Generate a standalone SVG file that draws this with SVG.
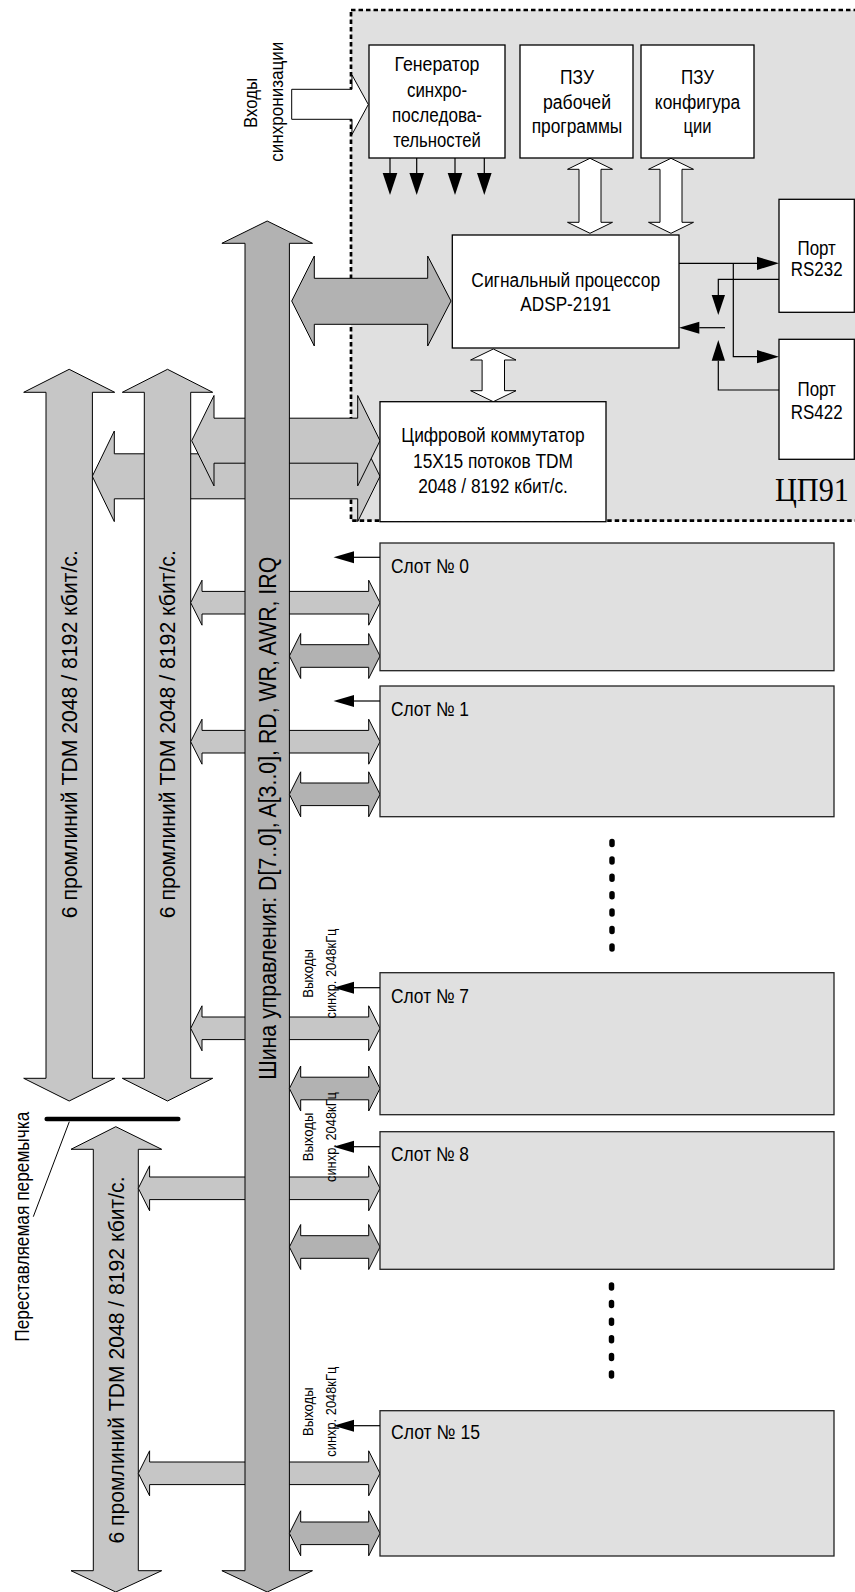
<svg xmlns="http://www.w3.org/2000/svg" width="855" height="1592" viewBox="0 0 855 1592">
<style>
.bg{fill:#fff}
.cpu{fill:#e0e0e0;stroke:#000;stroke-width:2.7;stroke-dasharray:4.5 3}
.box{fill:#fff;stroke:#000;stroke-width:1.3}
.slot{fill:#e0e0e0;stroke:#222;stroke-width:1.3}
.lt{fill:#c6c6c6;stroke:#000;stroke-width:1}
.dk{fill:#b2b2b2;stroke:#000;stroke-width:1}
.wh{fill:#fff;stroke:#000;stroke-width:1}
.ln{fill:none;stroke:#000;stroke-width:1.2}
.tri{fill:#000;stroke:none}
.dots{fill:none;stroke:#000;stroke-width:5.5;stroke-linecap:round}
.t{font-family:"Liberation Sans",Arial,sans-serif;font-size:20px;text-anchor:middle;fill:#000}
.tl{font-family:"Liberation Sans",Arial,sans-serif;font-size:20px;fill:#000}
.tr{font-family:"Liberation Sans",Arial,sans-serif;font-size:22.5px;text-anchor:middle;fill:#000}
.ts{font-family:"Liberation Sans",Arial,sans-serif;font-size:14px;text-anchor:middle;fill:#000}
.tv{font-family:"Liberation Serif","Times New Roman",serif;font-size:34px;fill:#000}
</style>
<rect class="bg" x="0" y="0" width="855" height="1592"/>

<g id="cpu-region">
<rect class="cpu" x="351" y="10" width="520" height="510.7"/>
</g>

<g id="connectors">
<polygon class="wh" points="291.7,89.3 352,89.3 352,75 368.3,104.5 352,134.5 352,119.3 291.7,119.3"/>
<line class="ln" x1="390" y1="158" x2="390" y2="173"/>
<line class="ln" x1="416.7" y1="158" x2="416.7" y2="173"/>
<line class="ln" x1="455" y1="158" x2="455" y2="173"/>
<line class="ln" x1="484.3" y1="158" x2="484.3" y2="173"/>
<polygon class="tri" points="382.7,173 397.3,173 390,195"/>
<polygon class="tri" points="409.4,173 424,173 416.7,195"/>
<polygon class="tri" points="447.7,173 462.3,173 455,195"/>
<polygon class="tri" points="477,173 491.6,173 484.3,195"/>
<polygon class="wh" points="590,158.3 612.5,169.3 601,169.3 601,222.3 612.5,222.3 590,233.3 567.5,222.3 579,222.3 579,169.3 567.5,169.3"/>
<polygon class="wh" points="671,158.3 693.5,169.3 682,169.3 682,222.3 693.5,222.3 671,233.3 648.5,222.3 660,222.3 660,169.3 648.5,169.3"/>
<polygon class="wh" points="493.3,349 516,360 504.5,360 504.5,390.7 516,390.7 493.3,401.7 470.6,390.7 482.1,390.7 482.1,360 470.6,360"/>
<polyline class="ln" points="679,263.3 757,263.3"/>
<polygon class="tri" points="757,256.7 779,263.3 757,270"/>
<polyline class="ln" points="733.3,263.3 733.3,356.7 757,356.7"/>
<polygon class="tri" points="757,350 779,356.7 757,363.3"/>
<polyline class="ln" points="779,279.3 718.3,279.3 718.3,295"/>
<polygon class="tri" points="711.7,295 725,295 718.3,315"/>
<polyline class="ln" points="725,327.7 699.3,327.7"/>
<polygon class="tri" points="699.3,321.7 679,327.7 699.3,333.7"/>
<polyline class="ln" points="779,390 718.3,390 718.3,360.7"/>
<polygon class="tri" points="711.7,360.7 725,360.7 718.3,340"/>
<polygon class="lt" points="92.3,476.3 114.3,431 114.3,453.8 357.7,453.8 357.7,431 380,476.3 357.7,521.6 357.7,498.8 114.3,498.8 114.3,521.6"/>
</g>

<g id="tdm1">
<polygon class="lt" points="69.2,369.3 114.7,392.3 92.4,392.3 92.4,1078.3 114.7,1078.3 69.2,1101 23.7,1078.3 46,1078.3 46,392.3 23.7,392.3"/>
<text class="tr" transform="translate(77,734.2) rotate(-90)" textLength="368" lengthAdjust="spacingAndGlyphs">6 промлиний TDM 2048 / 8192 кбит/с.</text>
</g>
<g id="tdm2">
<polygon class="lt" points="167.5,369.3 212.7,392.3 190.7,392.3 190.7,1078.3 212.7,1078.3 167.5,1101 122.3,1078.3 144.3,1078.3 144.3,392.3 122.3,392.3"/>
<text class="tr" transform="translate(174.5,734.2) rotate(-90)" textLength="368" lengthAdjust="spacingAndGlyphs">6 промлиний TDM 2048 / 8192 кбит/с.</text>
</g>
<g id="tdm3">
<polygon class="lt" points="115.8,1126.7 161.7,1149.3 138.3,1149.3 138.3,1570.7 161.7,1570.7 115.8,1592 71,1570.7 93.3,1570.7 93.3,1149.3 71,1149.3"/>
<text class="tr" transform="translate(124,1360) rotate(-90)" textLength="367" lengthAdjust="spacingAndGlyphs">6 промлиний TDM 2048 / 8192 кбит/с.</text>
</g>

<g id="jumper">
<line x1="46.7" y1="1119" x2="178.3" y2="1119" stroke="#000" stroke-width="4.5" stroke-linecap="round"/>
<line x1="69.3" y1="1121.7" x2="33.3" y2="1216.7" stroke="#000" stroke-width="1"/>
<text class="tl" style="font-size:20.5px;text-anchor:middle" transform="translate(28.5,1226.7) rotate(-90)" textLength="230" lengthAdjust="spacingAndGlyphs">Переставляемая перемычка</text>
</g>

<g id="branches">
<polygon class="lt" points="191.7,440.7 214,395.5 214,418.2 357.7,418.2 357.7,395.5 380,440.7 357.7,485.9 357.7,463.2 214,463.2 214,485.9"/>
<polygon class="lt" points="190.7,602.7 202,580.2 202,591.4 368.7,591.4 368.7,580.2 380,602.7 368.7,625.2 368.7,614 202,614 202,625.2"/>
<polygon class="lt" points="190.7,741.7 202,719.2 202,730.4 368.7,730.4 368.7,719.2 380,741.7 368.7,764.2 368.7,753 202,753 202,764.2"/>
<polygon class="lt" points="190.7,1028.3 202,1005.8 202,1017 368.7,1017 368.7,1005.8 380,1028.3 368.7,1050.8 368.7,1039.6 202,1039.6 202,1050.8"/>
<polygon class="lt" points="138.3,1188.3 149.6,1165.8 149.6,1177 368.7,1177 368.7,1165.8 380,1188.3 368.7,1210.8 368.7,1199.6 149.6,1199.6 149.6,1210.8"/>
<polygon class="lt" points="138.3,1473.3 149.6,1450.8 149.6,1462 368.7,1462 368.7,1450.8 380,1473.3 368.7,1495.8 368.7,1484.6 149.6,1484.6 149.6,1495.8"/>
</g>

<g id="bus">
<polygon class="dk" points="267.2,221 312.5,243.3 289.4,243.3 289.4,1570.7 312.5,1570.7 267.2,1592 221.9,1570.7 245,1570.7 245,243.3 221.9,243.3"/>
<text class="tr" style="font-size:23px" transform="translate(276,818.3) rotate(-90)" textLength="523" lengthAdjust="spacingAndGlyphs">Шина управления: D[7..0], A[3..0], RD, WR, AWR, IRQ</text>
</g>

<g id="bus-links">
<polygon class="dk" points="291.7,301 314.3,256 314.3,278.3 427.7,278.3 427.7,256 451,301 427.7,346 427.7,324.3 314.3,324.3 314.3,346"/>
<polygon class="dk" points="289.4,656 300.7,633.5 300.7,644.7 368.7,644.7 368.7,633.5 380,656 368.7,678.5 368.7,667.3 300.7,667.3 300.7,678.5"/>
<polygon class="dk" points="289.4,794.3 300.7,771.8 300.7,783 368.7,783 368.7,771.8 380,794.3 368.7,816.8 368.7,805.6 300.7,805.6 300.7,816.8"/>
<polygon class="dk" points="289.4,1088.5 300.7,1066 300.7,1077.2 368.7,1077.2 368.7,1066 380,1088.5 368.7,1111 368.7,1099.8 300.7,1099.8 300.7,1111"/>
<polygon class="dk" points="289.4,1247 300.7,1224.5 300.7,1235.7 368.7,1235.7 368.7,1224.5 380,1247 368.7,1269.5 368.7,1258.3 300.7,1258.3 300.7,1269.5"/>
<polygon class="dk" points="289.4,1533.3 300.7,1510.8 300.7,1522 368.7,1522 368.7,1510.8 380,1533.3 368.7,1555.8 368.7,1544.6 300.7,1544.6 300.7,1555.8"/>
</g>

<g id="sync-in-label">
<text class="tl" style="font-size:19px;text-anchor:middle" transform="translate(256.5,103) rotate(-90)" textLength="50" lengthAdjust="spacingAndGlyphs">Входы</text>
<text class="tl" style="font-size:19px;text-anchor:middle" transform="translate(283,101.7) rotate(-90)" textLength="120" lengthAdjust="spacingAndGlyphs">синхронизации</text>
</g>

<g id="gen">
<rect class="box" x="369" y="45" width="136" height="113"/>
<text class="t" x="437" y="71" textLength="85" lengthAdjust="spacingAndGlyphs">Генератор</text>
<text class="t" x="437" y="96.5" textLength="60" lengthAdjust="spacingAndGlyphs">синхро-</text>
<text class="t" x="437" y="122" textLength="90" lengthAdjust="spacingAndGlyphs">последова-</text>
<text class="t" x="437" y="147" textLength="87.7" lengthAdjust="spacingAndGlyphs">тельностей</text>
</g>

<g id="rom-prog">
<rect class="box" x="520" y="45" width="113" height="113"/>
<text class="t" x="577" y="83.5" textLength="34" lengthAdjust="spacingAndGlyphs">ПЗУ</text>
<text class="t" x="577" y="109" textLength="68" lengthAdjust="spacingAndGlyphs">рабочей</text>
<text class="t" x="577" y="132.5" textLength="90.7" lengthAdjust="spacingAndGlyphs">программы</text>
</g>

<g id="rom-conf">
<rect class="box" x="641" y="45" width="113" height="113"/>
<text class="t" x="697.5" y="83.5" textLength="33" lengthAdjust="spacingAndGlyphs">ПЗУ</text>
<text class="t" x="697.5" y="109" textLength="85.3" lengthAdjust="spacingAndGlyphs">конфигура</text>
<text class="t" x="697.5" y="132.5" textLength="28" lengthAdjust="spacingAndGlyphs">ции</text>
</g>

<g id="dsp">
<rect class="box" x="452.3" y="235" width="226.7" height="113"/>
<text class="t" x="565.7" y="287" textLength="188.7" lengthAdjust="spacingAndGlyphs">Сигнальный процессор</text>
<text class="t" x="565.7" y="310.7" textLength="90.7" lengthAdjust="spacingAndGlyphs">ADSP-2191</text>
</g>

<g id="port-rs232">
<rect class="box" x="779" y="199.3" width="75.3" height="113"/>
<text class="t" x="816.7" y="254.5" textLength="38.3" lengthAdjust="spacingAndGlyphs">Порт</text>
<text class="t" x="816.7" y="276" textLength="51.7" lengthAdjust="spacingAndGlyphs">RS232</text>
</g>

<g id="port-rs422">
<rect class="box" x="779" y="339.3" width="75.3" height="120"/>
<text class="t" x="816.7" y="395.5" textLength="38.3" lengthAdjust="spacingAndGlyphs">Порт</text>
<text class="t" x="816.7" y="419" textLength="51.7" lengthAdjust="spacingAndGlyphs">RS422</text>
</g>

<g id="switch">
<rect class="box" x="380" y="401.7" width="226" height="120"/>
<text class="t" x="493" y="442.3" textLength="183.3" lengthAdjust="spacingAndGlyphs">Цифровой коммутатор</text>
<text class="t" x="493" y="468.3" textLength="160" lengthAdjust="spacingAndGlyphs">15X15 потоков TDM</text>
<text class="t" x="493" y="493.3" textLength="149.7" lengthAdjust="spacingAndGlyphs">2048 / 8192 кбит/с.</text>
</g>

<g id="cpu-label">
<text class="tv" x="775" y="501" textLength="74" lengthAdjust="spacingAndGlyphs">ЦП91</text>
</g>

<g id="slot0">
<rect class="slot" x="380" y="543" width="454" height="127.7"/>
<line class="ln" x1="380" y1="557.3" x2="354" y2="557.3"/>
<polygon class="tri" points="354,551.3 333.5,557.3 354,563.3"/>
<text class="tl" x="391" y="572.7" textLength="78" lengthAdjust="spacingAndGlyphs">Слот № 0</text>
</g>
<g id="slot1">
<rect class="slot" x="380" y="686" width="454" height="130.7"/>
<line class="ln" x1="380" y1="701" x2="354" y2="701"/>
<polygon class="tri" points="354,695 333.5,701 354,707"/>
<text class="tl" x="391" y="715.7" textLength="78" lengthAdjust="spacingAndGlyphs">Слот № 1</text>
</g>
<g id="slot7">
<rect class="slot" x="380" y="972.7" width="454" height="142"/>
<line class="ln" x1="380" y1="987.7" x2="354" y2="987.7"/>
<polygon class="tri" points="354,981.7 333.5,987.7 354,993.7"/>
<text class="tl" x="391" y="1002.7" textLength="78" lengthAdjust="spacingAndGlyphs">Слот № 7</text>
<text class="ts" transform="translate(312.5,973.5) rotate(-90)" textLength="48.7" lengthAdjust="spacingAndGlyphs">Выходы</text>
<text class="ts" transform="translate(336,973.5) rotate(-90)" textLength="90" lengthAdjust="spacingAndGlyphs">синхр. 2048кГц</text>
</g>
<g id="slot8">
<rect class="slot" x="380" y="1131.7" width="454" height="137.6"/>
<line class="ln" x1="380" y1="1146.7" x2="354" y2="1146.7"/>
<polygon class="tri" points="354,1140.7 333.5,1146.7 354,1152.7"/>
<text class="tl" x="391" y="1160.7" textLength="78" lengthAdjust="spacingAndGlyphs">Слот № 8</text>
<text class="ts" transform="translate(312.5,1137) rotate(-90)" textLength="48.7" lengthAdjust="spacingAndGlyphs">Выходы</text>
<text class="ts" transform="translate(336,1137) rotate(-90)" textLength="90" lengthAdjust="spacingAndGlyphs">синхр. 2048кГц</text>
</g>
<g id="slot15">
<rect class="slot" x="380" y="1410.7" width="454" height="145.3"/>
<line class="ln" x1="380" y1="1425.7" x2="354" y2="1425.7"/>
<polygon class="tri" points="354,1419.7 333.5,1425.7 354,1431.7"/>
<text class="tl" x="391" y="1439.3" textLength="89" lengthAdjust="spacingAndGlyphs">Слот № 15</text>
<text class="ts" transform="translate(312.5,1411.7) rotate(-90)" textLength="48.7" lengthAdjust="spacingAndGlyphs">Выходы</text>
<text class="ts" transform="translate(336,1411.7) rotate(-90)" textLength="90" lengthAdjust="spacingAndGlyphs">синхр. 2048кГц</text>
</g>

<g id="ellipsis">
<line class="dots" x1="612" y1="841.5" x2="612" y2="950" stroke-dasharray="3 14.4"/>
<line class="dots" x1="611.5" y1="1285" x2="611.5" y2="1380" stroke-dasharray="3 14.6"/>
</g>
</svg>
